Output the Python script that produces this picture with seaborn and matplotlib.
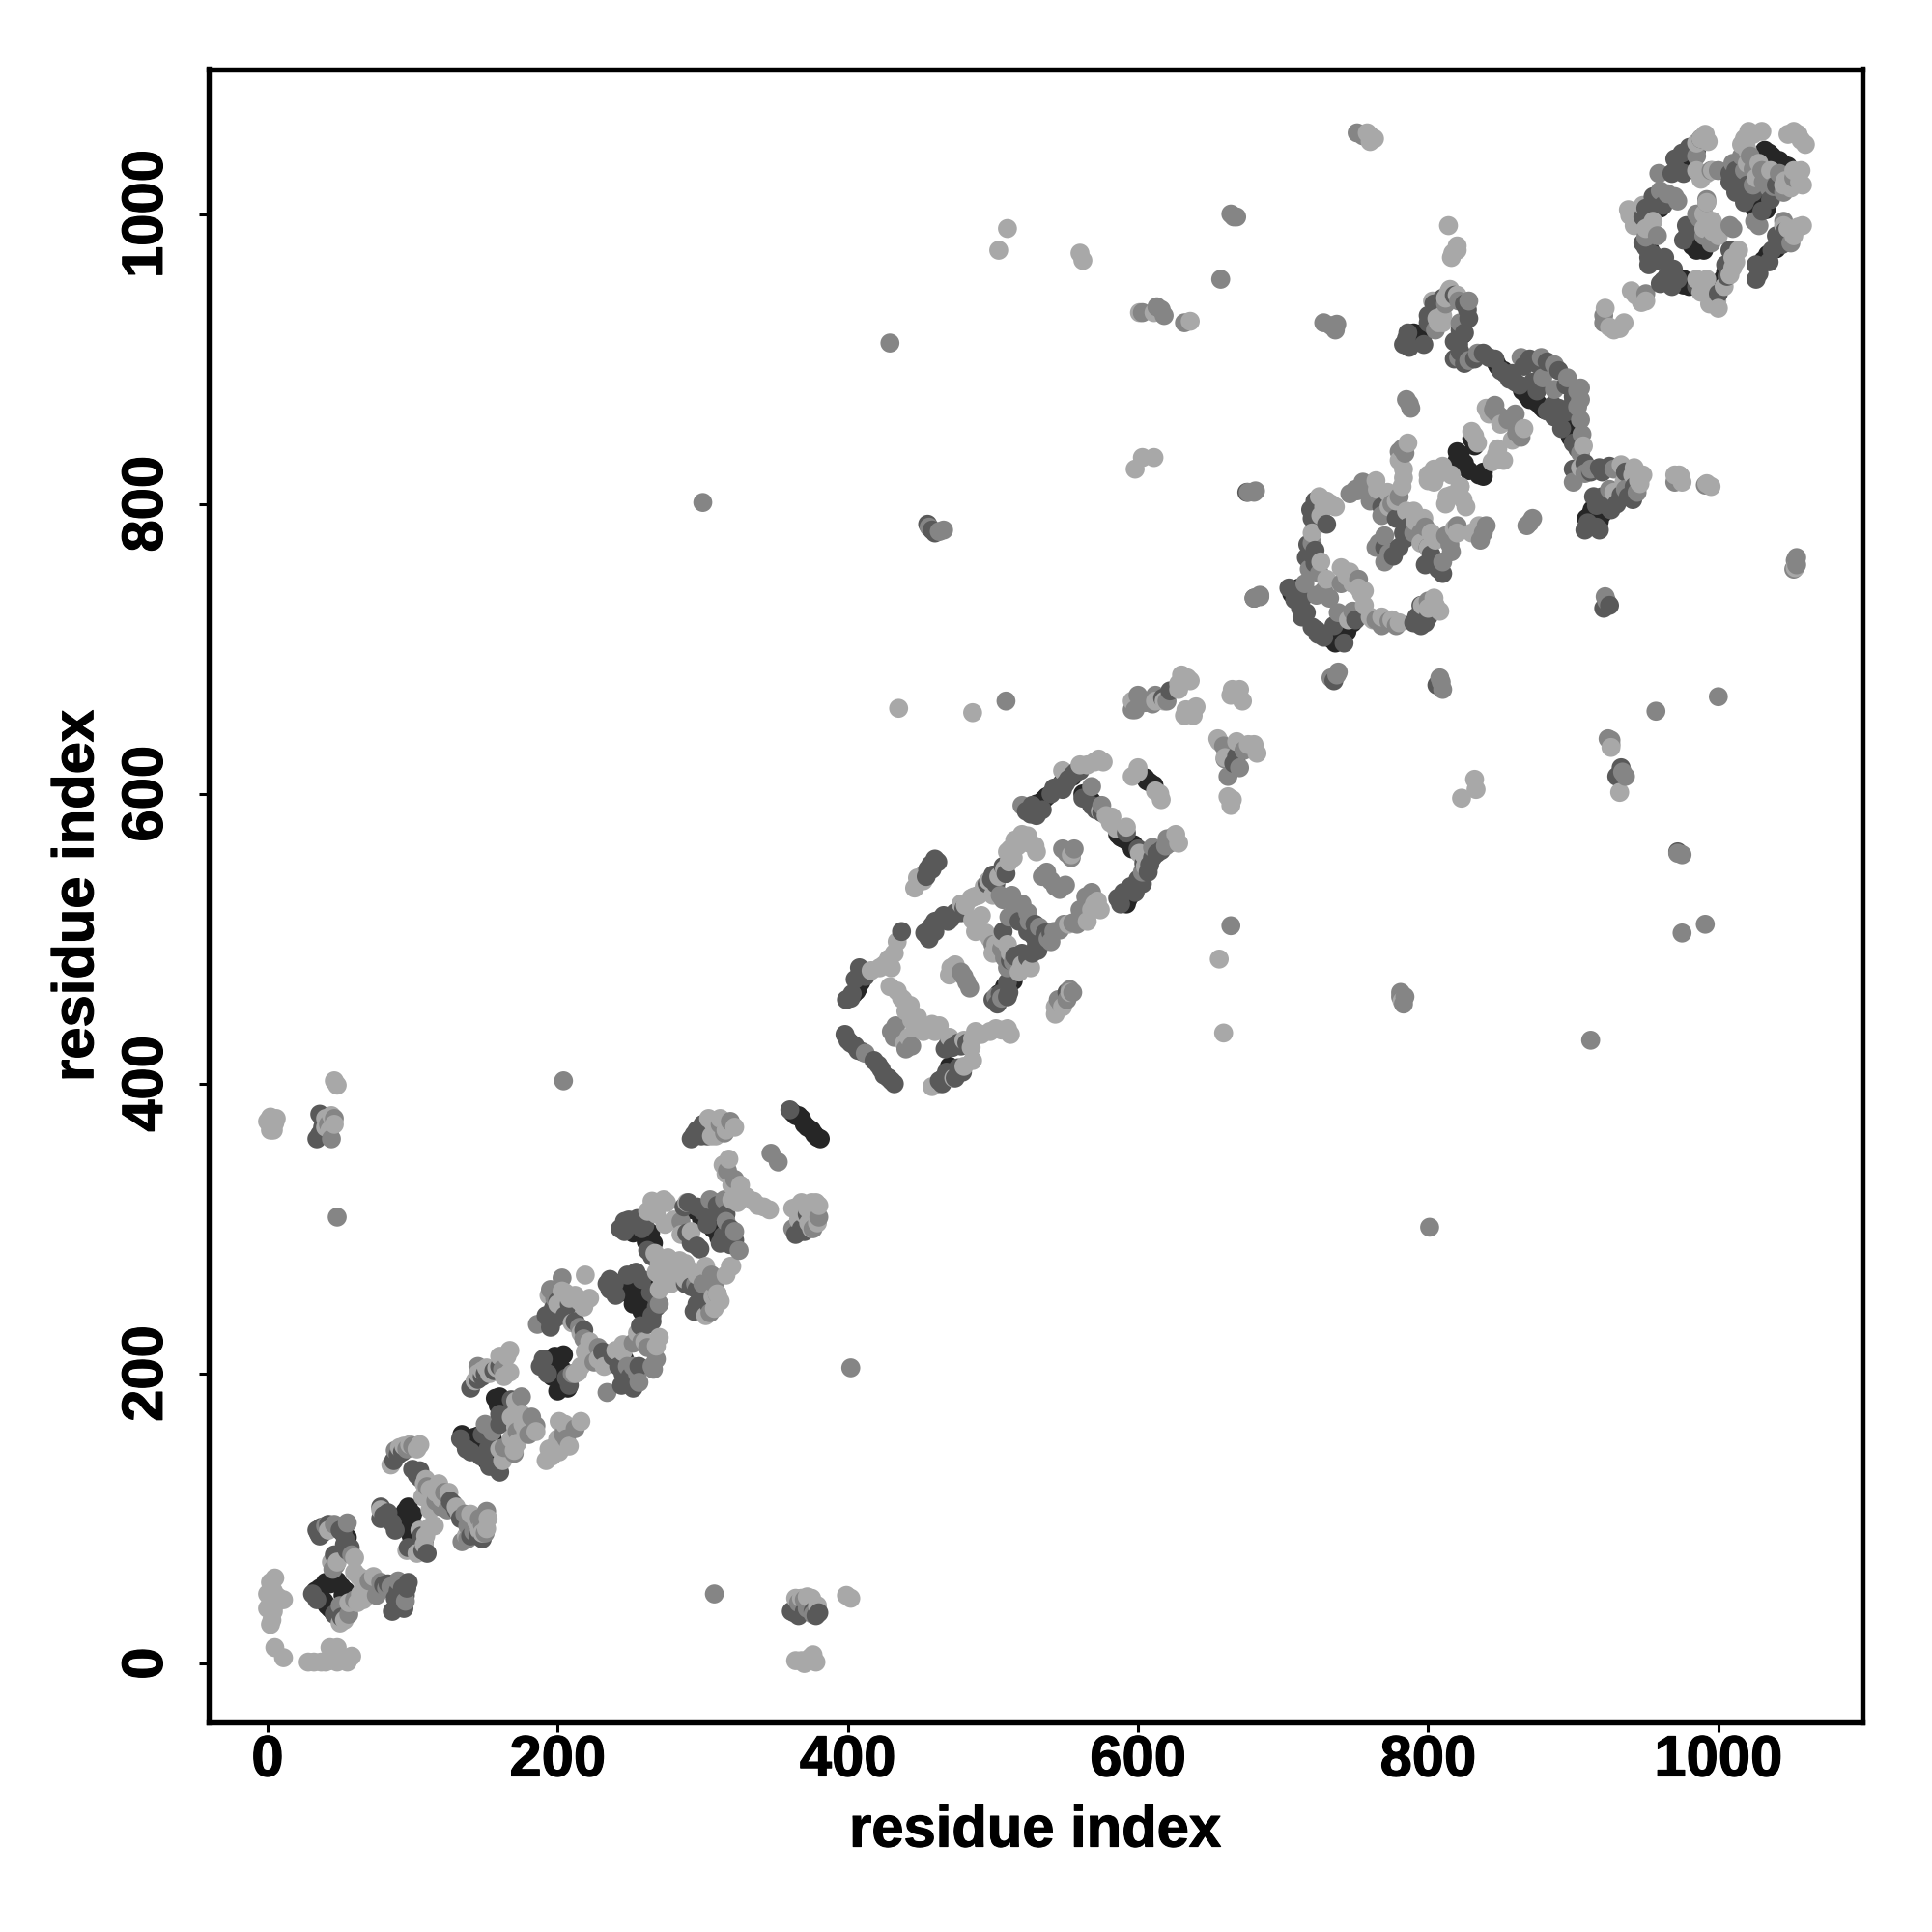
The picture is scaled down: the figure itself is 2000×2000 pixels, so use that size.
import pandas as pd
import seaborn as sns
import matplotlib.pyplot as plt
import matplotlib.patheffects as pe

# contactos (residuo i, residuo j), por nivel de gris
contacts_dark = [
    (33, 50), (37, 45), (43, 38), (48, 35), (40, 56), (48, 57), (54, 50), (85, 99), (91, 97), (97, 108), (100, 103),
    (99, 88), (101, 84), (55, 87), (46, 94), (134, 158), (145, 157), (151, 160), (136, 152), (143, 151), (151, 140),
    (158, 135), (160, 184), (162, 176), (191, 207), (198, 212), (204, 213), (195, 203), (203, 191), (207, 190),
    (241, 209), (243, 256), (255, 267), (261, 259), (252, 251), (258, 243), (261, 291), (264, 297), (252, 297),
    (293, 313), (299, 307), (308, 318), (313, 313), (307, 300), (311, 294), (298, 245), (302, 250), (362, 380),
    (368, 376), (372, 370), (377, 365), (381, 362), (533, 594), (565, 597), (590, 569), (597, 565), (590, 528),
    (605, 611), (611, 606), (514, 471), (409, 470), (407, 466), (709, 740), (712, 738), (745, 716), (738, 709),
    (742, 712), (820, 836), (822, 834), (828, 823), (838, 819), (832, 840), (1035, 1042), (1044, 1035), (1028, 1008),
    (957, 1008), (973, 1035), (988, 977), (912, 793), (916, 790), (798, 919), (792, 915), (868, 875), (878, 867),
    (897, 849), (847, 897), (1002, 950), (1031, 968), (953, 975), (976, 951),
    (35, 48), (39, 43), (41, 40), (45, 36), (43, 55), (45, 58), (51, 53), (52, 47), (36, 52),
    (88, 100), (93, 102), (95, 105), (98, 96), (102, 93), (104, 90), (100, 86), (103, 80),
    (138, 154), (140, 150), (142, 156), (147, 153), (149, 149), (153, 158), (155, 155), (155, 145), (156, 138),
    (157, 183), (161, 180), (159, 178), (194, 209), (197, 207), (200, 209), (201, 205), (203, 203), (205, 193),
    (200, 188), (196, 198),
    (238, 263), (241, 259), (246, 263), (250, 265), (253, 260), (256, 255), (258, 250), (260, 246), (263, 243),
    (263, 240), (258, 297), (255, 300), (250, 303), (246, 210), (244, 214), (247, 258), (249, 256), (252, 248),
    (266, 290), (262, 295),
    (364, 378), (366, 378), (370, 372), (375, 368), (379, 363),
    (530, 593), (535, 596), (537, 598), (562, 600), (568, 595), (572, 592), (588, 570), (593, 567), (596, 562),
    (586, 572), (593, 527), (596, 531), (592, 524), (512, 470), (508, 467), (504, 462), (406, 464), (404, 462),
    (474, 409), (470, 412), (530, 587), (606, 609), (608, 608), (555, 612), (548, 608),
    (706, 738), (711, 742), (740, 708), (744, 712), (748, 718), (736, 704), (733, 707),
    (788, 914), (790, 918), (794, 912), (796, 917), (800, 922), (824, 917), (835, 903), (848, 895), (852, 892),
    (865, 878), (870, 872), (875, 870), (880, 865), (890, 860), (893, 856), (898, 846), (909, 790), (913, 796),
    (918, 788), (920, 793), (925, 800), (912, 788), (820, 830), (825, 828), (835, 820), (838, 822), (830, 845),
    (975, 1040), (978, 1042), (960, 1010), (954, 1006), (960, 1004), (1032, 1044), (1037, 1040), (1042, 1037),
    (1048, 1033), (1030, 1006), (1033, 1003), (1025, 1004), (975, 1038), (982, 978), (985, 975), (990, 975),
    (1000, 950), (1003, 955), (1005, 960), (1034, 972), (1040, 976), (976, 955), (980, 950),
]
contacts_mid_dark = [
    (36, 88), (37, 94), (54, 85), (55, 78), (46, 75), (51, 32), (88, 38), (94, 38), (88, 45), (95, 47), (97, 56),
    (107, 78), (78, 100), (105, 133), (105, 128), (140, 146), (152, 148), (160, 165), (192, 240), (198, 238),
    (212, 236), (218, 230), (231, 215), (236, 265), (239, 262), (246, 298), (255, 307), (268, 252), (265, 236),
    (257, 233), (289, 297), (296, 288), (319, 289), (294, 365), (299, 364), (36, 365), (36, 379), (363, 35),
    (380, 35), (460, 555), (457, 551), (527, 592), (545, 605), (552, 610), (557, 615), (571, 589), (608, 551),
    (600, 541), (598, 532), (588, 524), (613, 559), (499, 541), (478, 518), (471, 514), (463, 513), (458, 509),
    (455, 502), (531, 492), (524, 487), (536, 504), (529, 510), (511, 463), (503, 455), (402, 459), (400, 430),
    (407, 423), (421, 413), (425, 406), (430, 402), (463, 402), (468, 408), (476, 411), (469, 427), (478, 426),
    (551, 463), (437, 505), (666, 621), (668, 626), (617, 666), (622, 671), (785, 914), (803, 923), (827, 934),
    (825, 918), (821, 910), (842, 901), (853, 890), (858, 890), (863, 882), (886, 868), (894, 863), (887, 860),
    (904, 843), (900, 824), (918, 825), (933, 806), (923, 799), (916, 799), (916, 784), (910, 787), (941, 803),
    (716, 763), (722, 759), (713, 722), (723, 713), (723, 799), (719, 796), (784, 776), (807, 755), (802, 765),
    (796, 724), (792, 722), (972, 1030), (975, 1042), (980, 1046), (951, 1002), (950, 977), (955, 972), (963, 970),
    (969, 962), (962, 954), (1037, 975), (1044, 979), (1028, 959), (1013, 1023), (1008, 1028), (1020, 1012),
    (1006, 957), (979, 987),
    (34, 92), (35, 90), (38, 90), (42, 96), (50, 92), (52, 90), (53, 82), (57, 80), (31, 48), (34, 44), (46, 34),
    (50, 30), (86, 36), (90, 40), (92, 42), (90, 50), (93, 52), (96, 52), (80, 54), (83, 55),
    (80, 102), (83, 104), (86, 97), (78, 108), (88, 92), (106, 88), (108, 84), (110, 76), (97, 80), (100, 134),
    (103, 130), (107, 128), (90, 144), (93, 146), (87, 140), (126, 112), (128, 110), (130, 106), (133, 100),
    (136, 100), (140, 88), (145, 88), (148, 86),
    (133, 155), (137, 148), (147, 143), (153, 136), (160, 132), (148, 158), (160, 172), (165, 170), (168, 182),
    (188, 205), (190, 210), (206, 197), (208, 192), (193, 200), (140, 190), (145, 196), (150, 200), (148, 198),
    (156, 202), (160, 205), (195, 236), (197, 245), (200, 250), (208, 248), (205, 240), (195, 232),
    (234, 262), (236, 258), (240, 254), (248, 268), (254, 270), (258, 265), (264, 256), (268, 246), (265, 240),
    (262, 234), (238, 212), (242, 205), (245, 200), (250, 198), (256, 205), (252, 190), (244, 192), (243, 300),
    (246, 305), (249, 306), (260, 302), (258, 300), (262, 285), (265, 281), (296, 248), (294, 243), (300, 243),
    (304, 248), (288, 262), (292, 260), (296, 258), (300, 255), (290, 318), (287, 315), (296, 315), (300, 312),
    (303, 303), (305, 310), (310, 316), (316, 310), (319, 300), (314, 295), (312, 290), (322, 292), (292, 290),
    (298, 286),
    (292, 362), (296, 368), (300, 372), (304, 368), (303, 364), (34, 362), (38, 370), (38, 376), (40, 365), (361, 36),
    (366, 33), (370, 36), (376, 36), (378, 33), (360, 382), (372, 310), (368, 300), (364, 296), (370, 298),
    (523, 588), (526, 586), (530, 585), (534, 589), (540, 600), (542, 604), (548, 603), (555, 613), (550, 607),
    (560, 616), (562, 597), (568, 592), (575, 587), (592, 573), (600, 562), (604, 552), (610, 556), (616, 561),
    (603, 538), (590, 532), (586, 528), (595, 536), (598, 537), (607, 546), (500, 544), (496, 538), (502, 538),
    (507, 550), (509, 545), (480, 521), (474, 518), (469, 512), (466, 516), (460, 512), (456, 506), (453, 504),
    (460, 505), (456, 500), (530, 496), (527, 490), (520, 490), (534, 498), (540, 504), (510, 470), (510, 460),
    (505, 462), (500, 458), (398, 434), (402, 428), (405, 426), (410, 422), (418, 416), (423, 410), (428, 404),
    (432, 400), (466, 404), (470, 405), (474, 404), (479, 408), (465, 400), (467, 424), (472, 425), (476, 428),
    (482, 428), (458, 548), (462, 553), (455, 548), (454, 543), (460, 553), (507, 505), (518, 512), (524, 505),
    (528, 502), (515, 488), (512, 485), (405, 472), (408, 480), (412, 474), (403, 462), (399, 458),
    (704, 742), (708, 734), (714, 736), (712, 728), (716, 725), (720, 715), (724, 710), (728, 708), (735, 716),
    (742, 704), (750, 720), (720, 765), (717, 772), (722, 768), (725, 795), (722, 802), (720, 790), (730, 786),
    (770, 770), (776, 764), (780, 770), (783, 780), (786, 784), (778, 790), (768, 798), (800, 770), (805, 760),
    (810, 752), (798, 758), (798, 718), (800, 722), (795, 730), (790, 718), (795, 716),
    (783, 910), (787, 908), (786, 918), (797, 910), (800, 925), (800, 930), (804, 938), (810, 942), (818, 944),
    (825, 938), (828, 928), (822, 920), (818, 912), (822, 905), (818, 900), (825, 897), (832, 900), (838, 904),
    (846, 900), (850, 892), (856, 886), (860, 884), (866, 895), (870, 900), (876, 896), (882, 898), (890, 892),
    (895, 882), (900, 874), (900, 870), (897, 864), (890, 866), (882, 864), (875, 878), (872, 884), (892, 852),
    (900, 842), (903, 838), (908, 828), (912, 822), (920, 822), (925, 826), (936, 822), (942, 812), (938, 805),
    (930, 800), (926, 796), (914, 805), (920, 805), (908, 782), (918, 782),
    (970, 1038), (968, 1028), (976, 1028), (985, 1044), (988, 1052), (955, 1012), (962, 1006), (950, 1004),
    (948, 998), (952, 970), (948, 980), (952, 965), (958, 968), (965, 958), (960, 952), (968, 950), (972, 955),
    (985, 950), (1000, 945), (1005, 965), (1008, 975), (1026, 965), (1026, 955), (1035, 967), (1040, 985),
    (1046, 988), (1012, 1030), (1008, 1022), (1016, 1028), (1012, 1015), (1018, 1008), (1020, 1020), (1024, 1015),
    (1030, 1002), (1036, 1010), (1040, 1020), (976, 982), (978, 992),
    (458, 782), (455, 786), (925, 730), (921, 728), (933, 618), (930, 612), (735, 678), (806, 675), (972, 560),
    (460, 780), (675, 808), (680, 735),
]
contacts_mid = [
    (60, 44), (55, 97), (75, 47), (85, 53), (78, 56), (45, 65), (46, 96), (142, 91), (151, 105), (136, 103),
    (134, 84), (163, 149), (168, 148), (182, 170), (204, 158), (186, 234), (203, 266), (252, 221), (266, 203),
    (256, 194), (234, 187), (319, 374), (308, 262), (295, 262), (317, 340), (322, 334), (46, 376), (372, 38),
    (402, 204), (204, 402), (48, 308), (308, 48), (347, 352), (352, 346), (509, 664), (673, 630), (659, 633),
    (551, 559), (534, 543), (543, 536), (515, 525), (511, 515), (524, 518), (506, 493), (514, 484), (562, 515),
    (555, 511), (546, 506), (538, 500), (564, 529), (506, 459), (482, 470), (430, 436), (547, 455), (555, 463),
    (412, 421), (664, 509), (625, 571), (619, 564), (603, 546), (429, 911), (616, 934), (657, 955), (666, 998),
    (755, 1054), (733, 923), (821, 940), (821, 901), (828, 899), (834, 904), (864, 901), (878, 901), (887, 896),
    (896, 887), (903, 878), (903, 867), (879, 887), (887, 879), (905, 835), (908, 821), (787, 869), (782, 838),
    (847, 863), (861, 849), (845, 865), (751, 809), (760, 802), (756, 812), (773, 766), (766, 773), (798, 784),
    (870, 787), (838, 780), (816, 767), (720, 773), (715, 745), (723, 737), (752, 748), (773, 719), (684, 737),
    (800, 733), (681, 809), (1054, 758), (923, 733), (737, 682), (809, 677), (957, 657), (1000, 667), (912, 430),
    (801, 301), (991, 510), (975, 504), (972, 559), (926, 637), (934, 615), (781, 460), (456, 784), (463, 781),
    (300, 801), (680, 735), (676, 808), (959, 1028), (992, 1008), (1008, 992), (1028, 992), (987, 997), (972, 1009),
    (1031, 1022), (1038, 1019), (1024, 1031), (921, 930), (950, 984), (991, 813), (970, 815), (1053, 761),
    (40, 95), (58, 75), (47, 68), (50, 40), (56, 34), (70, 57), (82, 52), (90, 57), (95, 43),
    (96, 148), (100, 150), (88, 147), (110, 122), (116, 112), (120, 108), (122, 118), (124, 106), (138, 95),
    (146, 100), (148, 96), (150, 90), (138, 86),
    (155, 160), (150, 165), (166, 150), (170, 145), (175, 184), (172, 160), (180, 158), (185, 164), (210, 200),
    (206, 155), (212, 162), (145, 205), (162, 203), (195, 258), (198, 252), (215, 232), (218, 224), (228, 218),
    (225, 208),
    (258, 222), (262, 218), (268, 210), (265, 205), (255, 200), (248, 205), (252, 205), (270, 248), (305, 242),
    (310, 255), (300, 262), (306, 268), (316, 305), (322, 298), (325, 285), (315, 320), (305, 320), (285, 305),
    (312, 372), (315, 366), (380, 308), (362, 300), (376, 300), (42, 372), (44, 362), (366, 42), (370, 44), (376, 34),
    (520, 592), (610, 563), (620, 569), (622, 566), (575, 592), (568, 605), (540, 540), (537, 546), (550, 537),
    (546, 534), (548, 562), (554, 556), (556, 562), (505, 530), (507, 527), (513, 530), (520, 524), (516, 520),
    (525, 512), (532, 508), (540, 498), (542, 505), (549, 510), (558, 510), (560, 520), (566, 527), (568, 532),
    (500, 496), (508, 487), (510, 480), (502, 460), (478, 477), (484, 466), (480, 474), (551, 458), (545, 458),
    (553, 465), (432, 432), (433, 440), (440, 424), (444, 426), (662, 612), (660, 624), (670, 618), (598, 658),
    (600, 668), (610, 662), (605, 663), (620, 664), (596, 658), (612, 668),
    (728, 740), (732, 735), (738, 725), (748, 726), (740, 745), (725, 752), (718, 755), (750, 810), (755, 815),
    (746, 807), (762, 808), (768, 792), (775, 800), (780, 805), (790, 780), (795, 780), (810, 760), (815, 772),
    (812, 778), (770, 760), (764, 770), (770, 778), (764, 720), (768, 716), (778, 716), (820, 785), (836, 775),
    (840, 785), (868, 785), (872, 790),
    (805, 920), (812, 938), (828, 940), (822, 925), (905, 872), (905, 880), (860, 862), (855, 858), (864, 846),
    (846, 868), (850, 860), (905, 858), (906, 848), (912, 824), (928, 824), (936, 810), (944, 808), (900, 815),
    (925, 810), (788, 866), (785, 872), (780, 836), (784, 835), (1054, 763), (1052, 755),
    (970, 1012), (965, 1014), (960, 1016), (1000, 1030), (1010, 1035), (1030, 1030), (1035, 1018), (1042, 1028),
    (1045, 1015), (1052, 1025), (1024, 1020), (1018, 1030), (1022, 1040), (1016, 1040), (985, 1040), (995, 1030),
    (950, 945), (921, 925), (958, 985), (1045, 995), (1050, 980), (1025, 995), (1010, 990), (985, 1000), (990, 985),
    (995, 980), (992, 1010),
    (603, 932), (613, 936), (618, 930), (632, 925), (728, 925), (736, 920), (737, 924), (751, 1056), (664, 1000),
    (668, 998), (466, 782), (680, 808), (684, 736), (738, 684), (733, 680), (810, 672), (808, 680), (975, 558),
    (922, 736), (936, 612), (926, 634), (924, 638), (781, 463), (783, 455), (784, 460),
]
contacts_light = [
    (5, 59), (2, 56), (2, 45), (11, 44), (0, 38), (2, 27), (5, 11), (11, 4), (28, 1), (37, 1), (43, 11), (43, 2),
    (48, 11), (58, 5), (55, 1), (48, 1), (60, 73), (60, 63), (63, 60), (66, 44), (73, 60), (91, 149), (105, 151),
    (85, 137), (109, 127), (118, 124), (125, 118), (107, 115), (115, 108), (130, 108), (151, 93), (78, 106),
    (112, 94), (96, 78), (167, 216), (158, 204), (167, 201), (145, 200), (151, 204), (214, 201), (171, 181),
    (171, 163), (185, 160), (201, 167), (216, 167), (201, 146), (192, 140), (194, 254), (203, 257), (212, 254),
    (222, 252), (219, 215), (219, 268), (268, 219), (265, 319), (273, 320), (274, 303), (267, 283), (276, 280),
    (283, 274), (274, 267), (288, 265), (319, 274), (302, 274), (307, 253), (289, 318), (314, 344), (325, 325),
    (335, 319), (342, 315), (365, 315), (375, 318), (373, 304), (2, 377), (5, 373), (2, 368), (40, 376), (43, 368),
    (46, 402), (48, 399), (307, 373), (316, 368), (309, 364), (368, 45), (375, 45), (399, 47), (402, 45), (368, 2),
    (374, 4), (378, 1), (435, 659), (486, 656), (596, 664), (634, 680), (628, 676), (633, 658), (638, 654),
    (665, 672), (672, 664), (656, 636), (680, 634), (665, 596), (600, 615), (615, 600), (573, 624), (565, 620),
    (578, 585), (585, 576), (601, 559), (524, 571), (529, 564), (517, 564), (510, 560), (511, 553), (504, 543),
    (494, 536), (487, 529), (481, 523), (570, 524), (486, 513), (495, 504), (432, 490), (425, 482), (429, 467),
    (437, 459), (443, 454), (444, 444), (458, 441), (463, 440), (486, 431), (492, 434), (506, 437), (439, 428),
    (471, 480), (543, 453), (453, 545), (656, 486), (659, 435), (763, 1052), (760, 1054), (991, 1055), (985, 1049),
    (992, 1028), (1021, 1057), (1030, 1057), (1052, 1057), (1057, 1051), (1019, 1048), (1056, 1022), (1057, 1030),
    (1046, 1023), (992, 1008), (939, 999), (947, 994), (952, 991), (996, 988), (1055, 991), (1048, 990), (1010, 970),
    (1010, 963), (999, 940), (991, 950), (940, 947), (947, 939), (925, 922), (932, 921), (814, 992), (820, 975),
    (817, 973), (807, 925), (803, 940), (814, 946), (945, 816), (941, 820), (933, 827), (973, 820), (992, 814),
    (804, 824), (800, 816), (813, 805), (824, 803), (783, 818), (818, 783), (832, 847), (847, 834), (764, 816),
    (773, 798), (785, 795), (791, 788), (795, 773), (733, 800), (726, 792), (740, 756), (746, 753), (756, 740),
    (762, 720), (510, 990), (504, 975), (560, 973), (562, 968), (601, 932), (611, 932), (636, 926), (598, 824),
    (603, 832), (611, 832), (832, 610), (823, 597), (833, 603), (926, 632), (932, 601), (782, 457), (974, 819),
    (1053, 756), (805, 730),
    (42, 92), (44, 70), (48, 70), (62, 42), (56, 42), (53, 30), (50, 28), (64, 48), (68, 58), (66, 54), (0, 48),
    (4, 50), (7, 46), (4, 36), (3, 30), (6, 42), (32, 1), (40, 1), (45, 7), (52, 3),
    (94, 150), (98, 151), (103, 148), (108, 124), (112, 120), (114, 116), (116, 118), (120, 114), (132, 104),
    (140, 103), (144, 98), (148, 90), (146, 92), (137, 88), (152, 100), (105, 92), (109, 88), (103, 76), (115, 95),
    (108, 82), (112, 106),
    (148, 202), (153, 200), (143, 195), (163, 198), (160, 212), (165, 212), (172, 176), (168, 170), (175, 172),
    (176, 165), (178, 160), (168, 155), (172, 152), (160, 148), (170, 147), (162, 140), (198, 150), (200, 155),
    (196, 143), (194, 148), (208, 150), (205, 165), (212, 200), (216, 205), (200, 248), (205, 256), (208, 252),
    (215, 250), (218, 246), (210, 235), (216, 228), (222, 222), (228, 210), (232, 205),
    (240, 216), (245, 220), (255, 228), (260, 222), (245, 215), (270, 225), (270, 258), (272, 262), (278, 262),
    (280, 272), (285, 270), (270, 276), (268, 270), (278, 276), (284, 278), (288, 276), (262, 312), (268, 310),
    (275, 318), (280, 306), (283, 265), (290, 272), (296, 268), (310, 255), (312, 250), (316, 268), (320, 274),
    (308, 245), (302, 240), (285, 296), (292, 298), (320, 320), (324, 318), (326, 330), (330, 322), (338, 316),
    (346, 313), (318, 348), (316, 338), (320, 330),
    (304, 376), (312, 376), (318, 370), (322, 370), (306, 364), (362, 314), (368, 318), (372, 314), (378, 318),
    (380, 316), (375, 300), (379, 304), (366, 306), (370, 310), (40, 370), (44, 378), (46, 372), (0, 374), (6, 376),
    (4, 368), (364, 45), (372, 46), (379, 40), (370, 0), (376, 6), (364, 2),
    (548, 616), (560, 620), (570, 622), (576, 622), (581, 580), (574, 588), (582, 584), (592, 577), (604, 558),
    (606, 556), (626, 572), (628, 566), (605, 550), (520, 572), (515, 568), (512, 562), (525, 566), (530, 560),
    (514, 556), (508, 548), (497, 540), (490, 530), (485, 528), (478, 524), (500, 530), (492, 516), (488, 505),
    (498, 500), (502, 496), (506, 500), (510, 496), (500, 490), (512, 490), (568, 520), (572, 526), (574, 520),
    (565, 512), (552, 510), (520, 482), (526, 480), (518, 477), (434, 498), (428, 486), (430, 480), (422, 480),
    (416, 478), (434, 464), (438, 458), (442, 452), (448, 446), (440, 450), (446, 440), (452, 436), (460, 436),
    (470, 432), (480, 430), (488, 436), (498, 436), (502, 438), (510, 438), (512, 434), (485, 425), (442, 432),
    (470, 475), (474, 482), (543, 448), (548, 453), (452, 540), (448, 542), (446, 535), (473, 404), (480, 412),
    (486, 416), (458, 398), (462, 400), (554, 558), (553, 463), (670, 672), (664, 668), (618, 664), (612, 664),
    (628, 672), (636, 678), (630, 682), (640, 660), (632, 654), (655, 638), (660, 625), (668, 636), (676, 634),
    (682, 628), (664, 592), (662, 598), (600, 618), (596, 612), (616, 596), (612, 602),
    (730, 802), (736, 798), (728, 798), (725, 805), (720, 780), (726, 760), (730, 748), (744, 750), (748, 745),
    (754, 738), (756, 730), (760, 722), (768, 722), (775, 720), (780, 718), (765, 810), (782, 812), (783, 824),
    (772, 808), (778, 802), (790, 795), (797, 790), (802, 780), (805, 775), (800, 770), (806, 820), (810, 826),
    (816, 806), (822, 812), (826, 798), (812, 800), (830, 780), (835, 785), (820, 780), (804, 735), (800, 728),
    (808, 726), (745, 720), (752, 742), (796, 730), (800, 820), (804, 815),
    (806, 928), (810, 930), (815, 948), (812, 942), (820, 944), (850, 855), (858, 844), (866, 852), (840, 866),
    (842, 862), (907, 840), (905, 825), (928, 808), (935, 815), (946, 814), (948, 820), (942, 825), (975, 815),
    (970, 820), (995, 812), (780, 830), (786, 842), (810, 925), (830, 850), (834, 842), (848, 838), (852, 830),
    (844, 829), (806, 820), (816, 820), (822, 812),
    (988, 1052), (993, 1050), (1018, 1052), (1024, 1055), (1020, 1044), (1028, 1035), (1020, 1035), (1016, 1048),
    (1048, 1055), (1055, 1055), (1060, 1048), (1052, 1030), (1058, 1020), (1050, 1018), (1045, 1020), (1036, 1030),
    (1026, 1025), (985, 1030), (988, 1024), (996, 1030), (945, 1000), (938, 1003), (942, 992), (950, 990), (955, 995),
    (948, 1006), (1052, 985), (1045, 992), (1058, 992), (1014, 975), (1012, 967), (1008, 958), (1004, 950), (998, 945),
    (994, 938), (988, 946), (985, 955), (992, 955), (1000, 935), (943, 944), (950, 940), (935, 925), (928, 920),
    (922, 935), (820, 978), (816, 970), (990, 1000), (996, 995), (1000, 985), (990, 990), (760, 1050), (758, 1056),
]

LEVELS = {"dark": "#262626", "mid_dark": "#595959", "mid": "#858585", "light": "#a8a8a8"}

rows = []
for level, pairs in [("mid_dark", contacts_mid_dark), ("mid", contacts_mid), ("light", contacts_light)]:
    for i, j in pairs:
        rows.append({"i": i, "j": j, "level": level})
# los mas oscuros quedan debajo, el resto se pinta por orden de residuo
others = pd.DataFrame(rows).sort_values("i", kind="mergesort")
darks = pd.DataFrame(contacts_dark, columns=["i", "j"]).assign(level="dark")
df = pd.concat([darks, others], ignore_index=True)

sns.set_style("white")
plt.rcParams["font.family"] = ["Liberation Sans", "DejaVu Sans"]
plt.rcParams["font.weight"] = "bold"
plt.rcParams["text.color"] = "black"
plt.rcParams["axes.labelcolor"] = "black"
plt.rcParams["xtick.color"] = "black"
plt.rcParams["ytick.color"] = "black"

fig = plt.figure(figsize=(20, 20), dpi=100)
ax = fig.add_axes([216 / 2000, 1 - 1783 / 2000, (1927.5 - 216) / 2000, (1783 - 71.5) / 2000])

sns.scatterplot(data=df, x="i", y="j", hue="level", palette=LEVELS, s=200, linewidth=0, legend=False, ax=ax)

ax.set_xlim(-40.6, 1099)
ax.set_ylim(-40.6, 1100)
ax.set_xticks([0, 200, 400, 600, 800, 1000])
ax.set_yticks([0, 200, 400, 600, 800, 1000])
ax.tick_params(axis="both", direction="out", length=7, width=2.2, labelsize=43, bottom=True, left=True)
ax.tick_params(axis="x", pad=2)
ax.tick_params(axis="y", pad=19)
plt.setp(ax.get_yticklabels(), rotation=90, va="center")
ax.set_xlabel("residue index", fontsize=43, fontweight="bold", labelpad=13)
ax.set_ylabel("residue index", fontsize=43, fontweight="bold", labelpad=12)
for spine in ax.spines.values():
    spine.set_linewidth(3.9)
    spine.set_color("black")

# el texto original es algo mas grueso
heavy = [pe.withStroke(linewidth=0.8, foreground="black")]
for txt in ax.get_xticklabels() + ax.get_yticklabels() + [ax.xaxis.label, ax.yaxis.label]:
    txt.set_path_effects(heavy)

plt.savefig("out.png", dpi=100)
plt.close()
